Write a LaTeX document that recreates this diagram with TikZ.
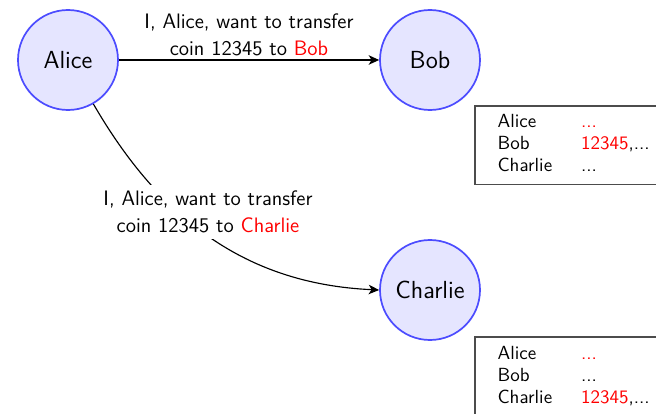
\documentclass[tikz,border=0pt]{standalone}
\usetikzlibrary{arrows.meta}
\begin{document}
\sffamily
\begin{tikzpicture}[x=0.526pt,y=-0.526pt,
  party/.style={circle, draw=blue!70, fill=blue!10, line width=0.9pt,
    inner sep=0pt, minimum size=52.6pt, font=\fontsize{13}{15}\selectfont},
  msg/.style={align=center, font=\fontsize{11}{14}\selectfont},
  ledger/.style={draw=black!70, line width=0.8pt, anchor=north west,
    inner sep=0pt, font=\fontsize{10}{12}\selectfont},
  send/.style={-{Stealth[length=5.5pt,width=5pt,inset=1.5pt]}, semithick}]
  \useasboundingbox (0,0) rectangle (656,414);

  % parties
  \node[party] (alice) at (68,60) {Alice};
  \node[party] (bob) at (430,60) {Bob};
  \node[party] (charlie) at (430,290) {Charlie};

  % transfer to Bob
  \draw[send] (alice) -- node[msg, above, inner sep=2pt] (msgbob)
    {I, Alice, want to transfer\\coin 12345 to \textcolor{red}{Bob}} (bob);

  % transfer to Charlie, label laid over the curve
  \draw[send] (alice.-60) .. controls (160,219) and (246,284) .. (charlie.west);
  \node[msg, fill=white] (msgcharlie) at (208,212)
    {I, Alice, want to transfer\\coin 12345 to \textcolor{red}{Charlie}};

  % ledgers held by Bob and Charlie
  \node[ledger] (ledgerbob) at (474,105) {%
    \renewcommand\arraystretch{0.967}%
    \begin{tabular}{@{\hspace{12pt}}l@{\hspace{15.2pt}}l@{\hspace{24pt}}}
      \rule{0pt}{11.4pt}Alice & \textcolor{red}{...}\\
      Bob & \textcolor{red}{12345},...\\
      Charlie & ...\rule[-6.8pt]{0pt}{6.8pt}
    \end{tabular}};
  \node[ledger] (ledgercharlie) at (474,336) {%
    \renewcommand\arraystretch{0.967}%
    \begin{tabular}{@{\hspace{12pt}}l@{\hspace{15.2pt}}l@{\hspace{24pt}}}
      \rule{0pt}{12pt}Alice & \textcolor{red}{...}\\
      Bob & ...\\
      Charlie & \textcolor{red}{12345},...\rule[-7.5pt]{0pt}{7.5pt}
    \end{tabular}};
\end{tikzpicture}
\end{document}
